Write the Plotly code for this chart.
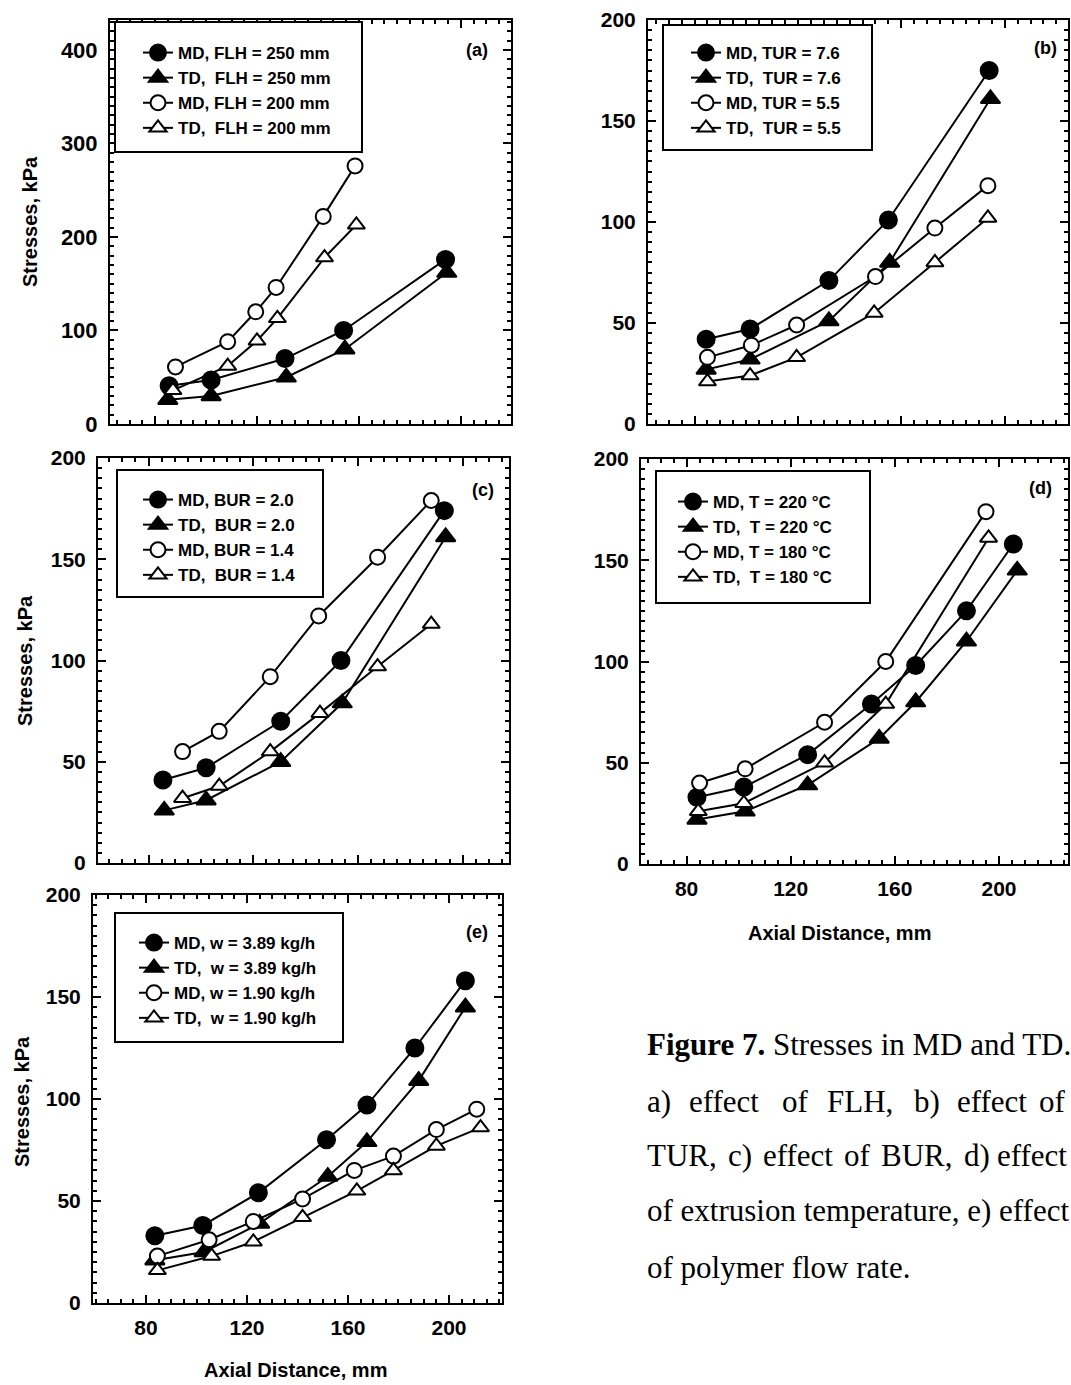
import plotly.graph_objects as go

W, H = 1071, 1385

# ---------------- data ----------------
# (a) effect of FLH
a_x_md250 = [85.5, 102, 131, 154, 194]
a_y_md250 = [41, 47, 70, 100, 176]
a_x_td250 = [85, 102, 131.5, 154.5, 194.5]
a_y_td250 = [26, 30, 50, 80, 162]
a_x_md200 = [88, 108.5, 119.5, 127.5, 146, 158.5]
a_y_md200 = [61, 88, 120, 146, 222, 276]
a_x_td200 = [87, 108.5, 120, 128, 146.5, 159]
a_y_td200 = [36, 62, 89, 113, 178, 213]

# (b) effect of TUR
b_x_md76 = [84.5, 101.5, 132, 155, 194]
b_y_md76 = [42, 47, 71, 101, 175]
b_x_td76 = [84.5, 101.5, 132, 155.5, 194.5]
b_y_td76 = [27, 32, 51, 80, 161]
b_x_md55 = [85, 102, 119.5, 150, 173, 193.5]
b_y_md55 = [33, 39, 49, 73, 97, 118]
b_x_td55 = [85, 101.5, 119.5, 149.5, 173, 193.5]
b_y_td55 = [21, 24, 33, 55, 80, 102]

# (c) effect of BUR
c_x_md20 = [85.5, 102, 130.5, 153.5, 193]
c_y_md20 = [41, 47, 70, 100, 174]
c_x_td20 = [86, 102, 130.5, 154, 193.5]
c_y_td20 = [26, 31, 50, 79, 161]
c_x_md14 = [93, 107, 126.5, 145, 167.5, 188]
c_y_md14 = [55, 65, 92, 122, 151, 179]
c_x_td14 = [93, 107, 126.5, 145.5, 167.5, 188]
c_y_td14 = [32, 38, 55, 74, 97, 118]

# (d) effect of extrusion temperature
d_x_md220 = [84, 102, 126.5, 151, 168, 187.5, 205.5]
d_y_md220 = [33, 38, 54, 79, 98, 125, 158]
d_x_td220 = [84, 102.5, 126.5, 154, 168, 187.5, 207]
d_y_td220 = [22, 26, 39, 62, 80, 110, 145]
d_x_md180 = [85, 102.5, 133, 156.5, 195]
d_y_md180 = [40, 47, 70, 100, 174]
d_x_td180 = [84.5, 102, 133, 156.5, 196]
d_y_td180 = [26, 30, 50, 79, 161]

# (e) effect of polymer flow rate
e_x_md389 = [83.5, 102.5, 124.5, 151.5, 167.5, 186.5, 206.5]
e_y_md389 = [33, 38, 54, 80, 97, 125, 158]
e_x_td389 = [83.5, 103, 125, 152, 167.5, 188, 206.5]
e_y_td389 = [21, 25, 39, 62, 79, 109, 145]
e_x_md190 = [84.5, 105, 122.5, 142, 162.5, 178, 195, 211]
e_y_md190 = [23, 31, 40, 51, 65, 72, 85, 95]
e_x_td190 = [84.5, 106, 122.5, 142, 163.5, 178, 195, 212.5]
e_y_td190 = [16, 23, 30, 42, 55, 65, 77, 86]

names_a = ["MD, FLH = 250 mm", "TD,\u00a0 FLH = 250 mm", "MD, FLH = 200 mm", "TD,\u00a0 FLH = 200 mm"]
names_b = ["MD, TUR = 7.6", "TD,\u00a0 TUR = 7.6", "MD, TUR = 5.5", "TD,\u00a0 TUR = 5.5"]
names_c = ["MD, BUR = 2.0", "TD,\u00a0 BUR = 2.0", "MD, BUR = 1.4", "TD,\u00a0 BUR = 1.4"]
names_d = ["MD, T = 220 \u00b0C", "TD,\u00a0 T = 220 \u00b0C", "MD, T = 180 \u00b0C", "TD,\u00a0 T = 180 \u00b0C"]
names_e = ["MD, w = 3.89 kg/h", "TD,\u00a0 w = 3.89 kg/h", "MD, w = 1.90 kg/h", "TD,\u00a0 w = 1.90 kg/h"]

y_ticks_a = [0, 100, 200, 300, 400]
y_ticks_std = [0, 50, 100, 150, 200]
x_ticks = [80, 120, 160, 200]

# ---------------- layout geometry (pixels) ----------------
panels = [
    dict(key="a", box=(110, 511, 20, 424), xr=[62.3, 219.7], yr=[0, 432], ymin=10, fs=22,
         xlab=False, series=[(a_x_md250, a_y_md250), (a_x_td250, a_y_td250), (a_x_md200, a_y_md200), (a_x_td200, a_y_td200)],
         names=names_a, legbox=(115, 22, 362, 152), leg=(138, 35), tag="(a)", tagpos=(477, 50)),
    dict(key="b", box=(648, 1068, 20, 424), xr=[62, 224.5], yr=[0, 200], ymin=5, fs=21,
         xlab=False, series=[(b_x_md76, b_y_md76), (b_x_td76, b_y_td76), (b_x_md55, b_y_md55), (b_x_td55, b_y_td55)],
         names=names_b, legbox=(663, 25, 872, 150), leg=(686, 35), tag="(b)", tagpos=(1045, 48)),
    dict(key="c", box=(98, 509, 458, 863), xr=[60.7, 217.7], yr=[0, 200], ymin=5, fs=21,
         xlab=False, series=[(c_x_md20, c_y_md20), (c_x_td20, c_y_td20), (c_x_md14, c_y_md14), (c_x_td14, c_y_td14)],
         names=names_c, legbox=(117, 470, 323, 597), leg=(138, 482), tag="(c)", tagpos=(483, 490)),
    dict(key="d", box=(641, 1068, 459, 864), xr=[62.5, 226.5], yr=[0, 200], ymin=5, fs=21,
         xlab=True, series=[(d_x_md220, d_y_md220), (d_x_td220, d_y_td220), (d_x_md180, d_y_md180), (d_x_td180, d_y_td180)],
         names=names_d, legbox=(656, 471, 870, 603), leg=(673, 484), tag="(d)", tagpos=(1040, 488)),
    dict(key="e", box=(93, 502, 895, 1303), xr=[59, 221], yr=[0, 200], ymin=5, fs=21,
         xlab=True, series=[(e_x_md389, e_y_md389), (e_x_td389, e_y_td389), (e_x_md190, e_y_md190), (e_x_td190, e_y_td190)],
         names=names_e, legbox=(115, 913, 343, 1042), leg=(134, 925), tag="(e)", tagpos=(477, 932)),
]

styles = [("circle", "black", 17), ("triangle-up", "black", 17), ("circle", "white", 15), ("triangle-up", "white", 15)]

fig = go.Figure()
layout = dict(width=W, height=H, margin=dict(l=0, r=0, t=0, b=0, autoexpand=False),
              paper_bgcolor="white", plot_bgcolor="white", showlegend=True)

shapes = []
for i, p in enumerate(panels):
    n = "" if i == 0 else str(i + 1)
    legname = "legend" + n
    L, R, T, B = p["box"]
    for (xs, ys), (sym, fill, sz), nm in zip(p["series"], styles, p["names"]):
        fig.add_trace(go.Scatter(
            x=xs, y=ys, name=nm, mode="lines+markers",
            xaxis="x" + n, yaxis="y" + n, legend=legname,
            line=dict(color="black", width=2),
            marker=dict(symbol=sym, size=sz, color=fill, line=dict(color="black", width=2)),
        ))
    tickfont = dict(family="Liberation Sans", size=p["fs"], color="black", weight="bold")
    common = dict(showline=True, linecolor="black", linewidth=2, mirror="ticks",
                  ticks="inside", ticklen=8, tickwidth=2, tickcolor="black",
                  showgrid=False, zeroline=False, tickfont=tickfont)
    layout["xaxis" + n] = dict(common, domain=[L / W, R / W], range=p["xr"], anchor="y" + n,
                               tickmode="array", tickvals=x_ticks, showticklabels=p["xlab"],
                               ticklabelstandoff=5,
                               minor=dict(dtick=5, tick0=0, ticks="inside", ticklen=4, tickwidth=1.5,
                                          tickcolor="black", showgrid=False))
    yt = y_ticks_a if p["key"] == "a" else y_ticks_std
    layout["yaxis" + n] = dict(common, domain=[1 - B / H, 1 - T / H], range=p["yr"], anchor="x" + n,
                               tickmode="array", tickvals=yt, ticklabelstandoff=6,
                               minor=dict(dtick=p["ymin"], tick0=0, ticks="inside", ticklen=4, tickwidth=1.5,
                                          tickcolor="black", showgrid=False))
    bx0, by0, bx1, by1 = p["legbox"]
    shapes.append(dict(type="rect", xref="paper", yref="paper", x0=bx0 / W, x1=bx1 / W,
                       y0=1 - by1 / H, y1=1 - by0 / H, fillcolor="white",
                       line=dict(color="black", width=2), layer="above"))
    lx, ly = p["leg"]
    layout[legname] = dict(x=lx / W, y=1 - ly / H, xanchor="left", yanchor="top",
                           bgcolor="rgba(0,0,0,0)", borderwidth=0,
                           font=dict(family="Liberation Sans", size=17, color="black", weight="bold"),
                           tracegroupgap=0)

annotations = []
for p in panels:
    tx, ty = p["tagpos"]
    annotations.append(dict(text="<b>" + p["tag"] + "</b>", x=tx / W, y=1 - ty / H, xref="paper", yref="paper",
                            showarrow=False, xanchor="center", yanchor="middle",
                            font=dict(family="Liberation Sans", size=18, color="black")))

for (cx, cy) in [(30, 222), (25, 661), (22, 1102)]:
    annotations.append(dict(text="<b>Stresses, kPa</b>", x=cx / W, y=1 - cy / H, xref="paper", yref="paper",
                            showarrow=False, textangle=-90, xanchor="center", yanchor="middle",
                            font=dict(family="Liberation Sans", size=20, color="black")))

for (cx, cy) in [(839, 933), (295, 1370)]:
    annotations.append(dict(text="<b>Axial Distance, mm</b>", x=cx / W, y=1 - cy / H, xref="paper", yref="paper",
                            showarrow=False, xanchor="center", yanchor="middle",
                            font=dict(family="Liberation Sans", size=20, color="black")))

CAP = dict(family="Liberation Serif", size=31, color="black")
# (x, y, text, anchor) -- justified caption, placed word by word where stretched
caption_parts = [
    (645, 1044, "<b>Figure 7.</b> Stresses in MD and TD.", "left"),
    (645, 1101, "a)", "left"), (687, 1101, "effect", "left"), (780, 1101, "of", "left"),
    (825, 1101, "FLH,", "left"), (912, 1101, "b)", "left"), (955, 1101, "effect", "left"),
    (1068, 1101, "of", "right"),
    (645, 1155, "TUR,", "left"), (726, 1155, "c)", "left"), (761, 1155, "effect", "left"),
    (842, 1155, "of", "left"), (879, 1155, "BUR,", "left"), (962, 1155, "d)", "left"),
    (1069, 1155, "effect", "right"),
    (645, 1210, "of extrusion temperature, e) effect", "left"),
    (645, 1267, "of polymer flow rate.", "left"),
]
for cx, cy, t, anc in caption_parts:
    annotations.append(dict(text=t, x=cx / W, y=1 - cy / H, xref="paper", yref="paper", showarrow=False,
                            xanchor=anc, yanchor="middle", font=CAP))

layout["annotations"] = annotations
layout["shapes"] = shapes
fig.update_layout(**layout)
fig.write_html("out.html")
